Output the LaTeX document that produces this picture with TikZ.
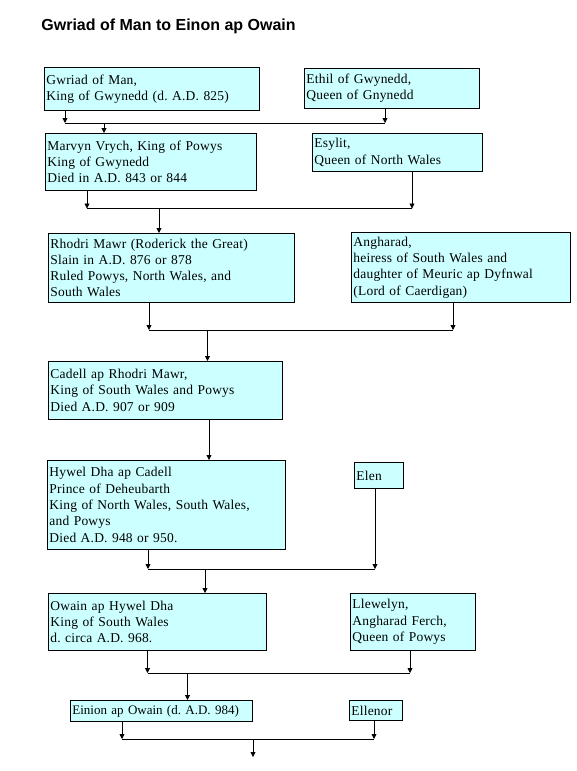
\documentclass[tikz,border=0pt]{standalone}
\usepackage{fontspec}
\usepackage{tikz}
\usetikzlibrary{positioning}
\usetikzlibrary{arrows.meta}
\newfontfamily\boxfont[LetterSpace=1.5]{Liberation Serif}
\newfontfamily\plainfont{Liberation Serif}
\newfontfamily\titlefont{Liberation Sans}
\definecolor{boxcyan}{RGB}{204,255,255}
\frenchspacing
\tikzset{
b/.style 2 args={
  rectangle,
  anchor=north west,
  inner xsep=2pt,
  inner ysep=1pt,
  text width=#1,
  minimum height=#2,
  align=left,
  draw=black,
  fill=boxcyan,
  font=\boxfont\fontsize{13.5}{16.3}\selectfont
  }
}
\begin{document}
\begin{tikzpicture}[x=1pt,y=-1pt,>={Triangle[length=5pt,width=5pt]},line width=0.8pt]
            \useasboundingbox (0,0) rectangle (577,771);
            \node[anchor=base west,inner sep=0pt,font=\titlefont\bfseries\fontsize{16}{19}\selectfont] (title) at (41,30.5) {Gwriad of Man to Einon ap Owain};
            % first generation
            \node[b={211pt}{43pt}] (gwriad) at (44,67) {Gwriad of Man,\\King of Gwynedd (d. A.D. 825)};
            \node[b={171pt}{40pt}] (ethil) at (304,68) {Ethil of Gwynedd,\\Queen of Gnynedd};
            \node[b={207pt}{57pt}] (marvyn) at (45,133) {Marvyn Vrych, King of Powys\\King of Gwynedd\\Died in A.D. 843 or 844};
            \node[b={166pt}{38pt}] (esylit) at (312,133) {Esylit,\\Queen of North Wales};
            \node[b={242pt}{69pt}] (rhodri) at (48,233) {Rhodri Mawr (Roderick the Great)\\Slain in A.D. 876 or 878\\Ruled Powys, North Wales, and\\South Wales};
            \node[b={215pt}{70pt}] (angharad) at (351,232) {Angharad,\\heiress of South Wales and\\daughter of Meuric ap Dyfnwal\\(Lord of Caerdigan)};
            \node[b={230pt}{58pt}] (cadell) at (48,361) {Cadell ap Rhodri Mawr,\\King of South Wales and Powys\\Died A.D. 907 or 909};
            \node[b={234pt}{89pt}] (hywel) at (47,460) {Hywel Dha ap Cadell\\Prince of Deheubarth\\King of North Wales, South Wales,\\and Powys\\Died A.D. 948 or 950.};
            \node[b={45pt}{26pt}] (elen) at (354,462) {Elen};
            \node[b={214pt}{57pt}] (owain) at (48,593) {Owain ap Hywel Dha\\King of South Wales\\d. circa A.D. 968.};
            \node[b={121pt}{57pt}] (llewelyn) at (350,593) {Llewelyn,\\Angharad Ferch,\\Queen of Powys};
            \node[b={178pt}{21pt},font=\plainfont\fontsize{13}{16}\selectfont] (einion) at (70,700) {Einion ap Owain (d. A.D. 984)};
            \node[b={49pt}{20pt}] (ellenor) at (349,700) {Ellenor};
            % joins
            \coordinate (j1a) at (65,123);
            \coordinate (j1b) at (385,123);
            \coordinate (j1c) at (104,123);
            \coordinate (j2a) at (87,208.5);
            \coordinate (j2b) at (412,208.5);
            \coordinate (j2c) at (159,208.5);
            \coordinate (j3a) at (149,330);
            \coordinate (j3b) at (453,330);
            \coordinate (j3c) at (207.5,330);
            \coordinate (j4) at (209,440);
            \coordinate (j5a) at (148,569);
            \coordinate (j5b) at (375,569);
            \coordinate (j5c) at (205,569);
            \coordinate (j6a) at (147.5,673);
            \coordinate (j6b) at (410,673);
            \coordinate (j6c) at (187.5,673);
            \coordinate (j7a) at (122,739);
            \coordinate (j7b) at (374,739);
            \coordinate (j7c) at (253,739);
            \coordinate (last) at (253,757);
            \draw[->] (gwriad.south -| j1a) -- (j1a);
            \draw[->] (ethil.south -| j1b) -- (j1b);
            \draw (j1a) -- (j1b);
            \draw[->] (j1c) -- (marvyn.north -| j1c);
            \draw[->] (marvyn.south -| j2a) -- (j2a);
            \draw[->] (esylit.south -| j2b) -- (j2b);
            \draw (j2a) -- (j2b);
            \draw[->] (j2c) -- (rhodri.north -| j2c);
            \draw[->] (rhodri.south -| j3a) -- (j3a);
            \draw[->] (angharad.south -| j3b) -- (j3b);
            \draw (j3a) -- (j3b);
            \draw[->] (j3c) -- (cadell.north -| j3c);
            \draw[->] (cadell.south -| j4) -- (hywel.north -| j4);
            \draw[->] (hywel.south -| j5a) -- (j5a);
            \draw[->] (elen.south -| j5b) -- (j5b);
            \draw (j5a) -- (j5b);
            \draw[->] (j5c) -- (owain.north -| j5c);
            \draw[->] (owain.south -| j6a) -- (j6a);
            \draw[->] (llewelyn.south -| j6b) -- (j6b);
            \draw (j6a) -- (j6b);
            \draw[->] (j6c) -- (einion.north -| j6c);
            \draw[->] (einion.south -| j7a) -- (j7a);
            \draw[->] (ellenor.south -| j7b) -- (j7b);
            \draw (j7a) -- (j7b);
            \draw[->] (j7c) -- (last);
        \end{tikzpicture}
\end{document}
